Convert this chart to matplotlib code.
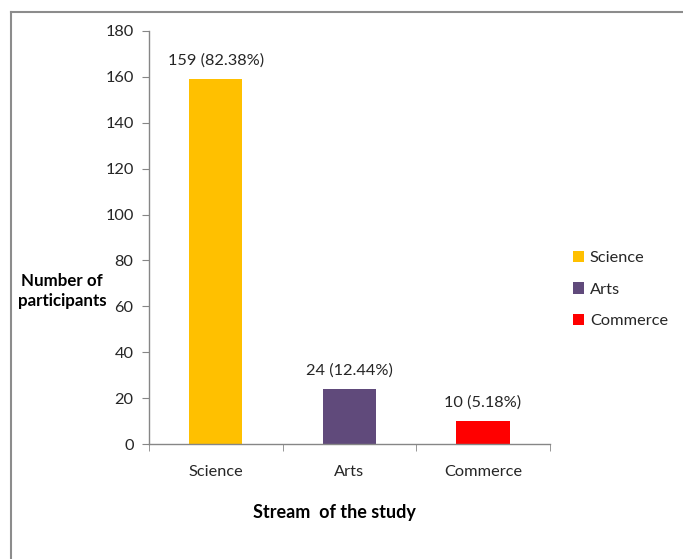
import matplotlib.pyplot as plt
from matplotlib.lines import Line2D
from matplotlib.patches import Patch

streams = ['Science', 'Arts', 'Commerce']
participants = [159, 24, 10]
percents = ['82.38%', '12.44%', '5.18%']
colors = ['#FFC000', '#604A7B', '#FF0000']

plt.rcParams['font.family'] = ['Lato', 'DejaVu Sans']
axis_grey = '#868686'
text_col = '#262626'

fig = plt.figure(figsize=(6.83, 5.59), dpi=100)
ax = fig.add_axes([0.218, 0.2057, 0.587, 0.739])

x = range(len(streams))
ax.bar(x, participants, width=0.4, color=colors)

for i, (v, p) in enumerate(zip(participants, percents)):
    ax.annotate(f'{v} ({p})', (i, v), xytext=(0, 8), textcoords='offset points',
                ha='center', va='bottom', fontsize=11.8, color=text_col)

ax.set_xlim(-0.5, 2.5)
ax.set_ylim(0, 180)
ax.set_yticks(range(0, 181, 20))
ax.set_xticks(list(x))
ax.set_xticklabels(streams)
ax.set_xticks([-0.5, 0.5, 1.5, 2.5], minor=True)

for s in ['top', 'right']:
    ax.spines[s].set_visible(False)
for s in ['left', 'bottom']:
    ax.spines[s].set_color(axis_grey)
    ax.spines[s].set_linewidth(1)

ax.tick_params(axis='y', direction='out', length=5, color=axis_grey,
               labelsize=11.8, labelcolor=text_col, pad=6)
ax.tick_params(axis='x', which='major', length=0, labelsize=11.8,
               labelcolor=text_col, pad=15)
ax.tick_params(axis='x', which='minor', direction='out', length=5, color=axis_grey)

fig.text(0.091, 0.48, 'Number of\nparticipants', ha='center', va='center',
         fontsize=12.2, fontweight='bold', color='black', linespacing=1.3)
fig.text(0.489, 0.084, 'Stream  of the study', ha='center', va='center',
         fontsize=13, fontweight='bold', color='black')

handles = [Patch(facecolor=c, edgecolor='none') for c in colors]
fig.legend(handles, streams, loc='center left', bbox_to_anchor=(0.817, 0.482),
           frameon=False, fontsize=11.8, handlelength=0.7, handleheight=0.7,
           handletextpad=0.35, labelspacing=1.05, labelcolor=text_col)

# outer chart border (top and left only visible in crop)
fig.add_artist(Line2D([0.0155, 1.0], [0.979, 0.979], transform=fig.transFigure,
                      color='#8c8c8c', lw=1.5))
fig.add_artist(Line2D([0.0155, 0.0155], [0.0, 0.979], transform=fig.transFigure,
                      color='#8c8c8c', lw=1.5))

fig.savefig('out.png', dpi=100)
